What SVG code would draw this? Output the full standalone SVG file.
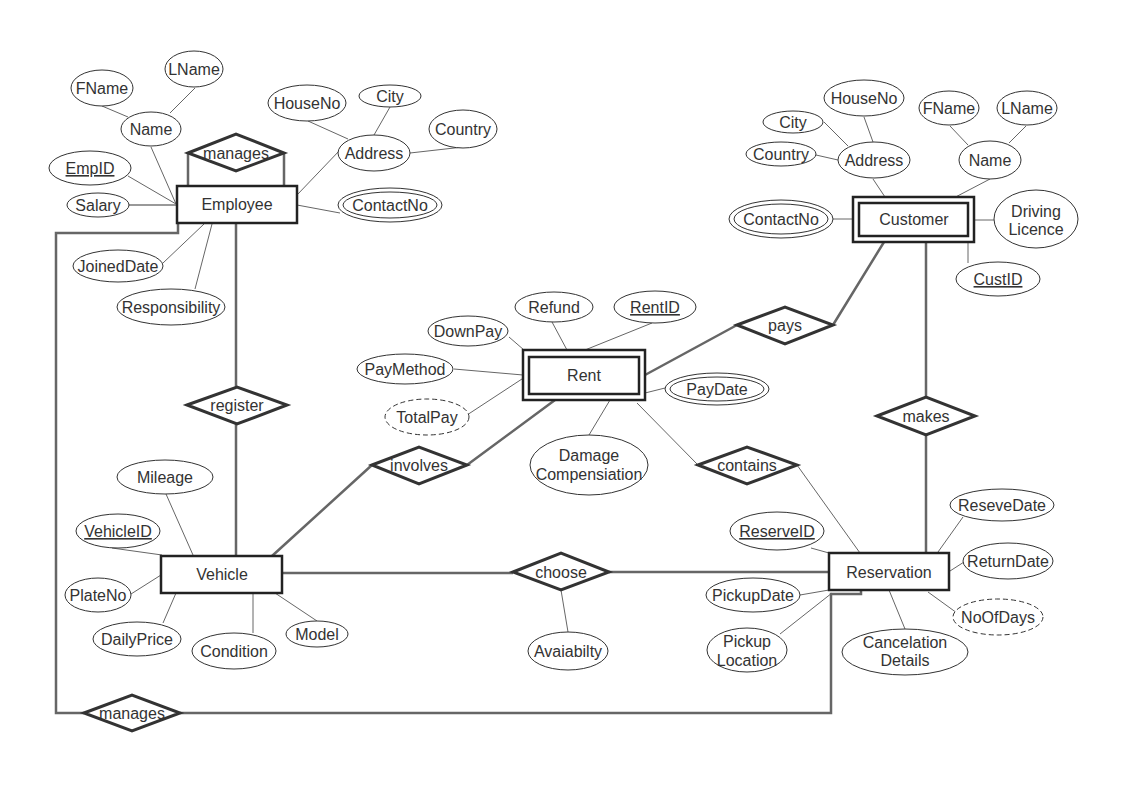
<svg xmlns="http://www.w3.org/2000/svg" width="1122" height="794" viewBox="0 0 1122 794">
<style>
.ent{fill:#fff;stroke:#222;stroke-width:2.5}
.rel{fill:#fff;stroke:#333;stroke-width:3}
.att{fill:#fff;stroke:#333;stroke-width:1}
.dash{stroke-dasharray:5 3}
.t{font-family:"Liberation Sans",Arial,sans-serif;font-size:16px;fill:#333;text-anchor:middle}
.u{text-decoration:underline}
.conn{fill:none;stroke:#666;stroke-width:2.5}
.al{fill:none;stroke:#666;stroke-width:1}
</style>
<rect width="1122" height="794" fill="#fff"/>
<g id="connectors">
  <path class="conn" d="M188,153 V186 M284,153 V186"/>
  <path class="conn" d="M236,223 V387 M236,424 V556"/>
  <path class="conn" d="M178,223 V233 H56 V713 H84 M180,713 H831 V594 H861 V590"/>
  <path class="conn" d="M272,556 L372,465 M467,465 L555,400"/>
  <path class="conn" d="M645,375 L737,325 M833,325 L884,242"/>
  <path class="conn" d="M926,242 V397 M926,435 V553"/>
  <path class="conn" d="M282,573 H513 M609,572 H829"/>
  <path class="al" d="M637,403 L698,465 M797,465 L860,553"/>
  <path class="al" d="M102,106 L128,117 M170,113 L195,88 M151,147 L176,204 M128,176 L176,204 M163,263 L204,224 M195,289 L212,224 M297,195 L340,150 M308,121 L348,139 M390,107 L374,135 M410,153 L463,147 M297,205 L340,213"/>
  <path d="M129,205 H176" fill="none" stroke="#999" stroke-width="2"/>
  <path class="al" d="M873,179 L885,197 M864,117 L873,142 M824,122 L848,146 M816,155 L838,160 M990,179 L946,202 M950,126 L968,145 M1026,126 L1009,143 M833,219 H853 M974,220 H994 M968,242 V263"/>
  <path class="al" d="M509,337 L524,350 M552,322 L567,350 M652,323 L585,350 M454,369 L523,375 M467,415 L525,377 M645,393 L665,388 M589,435 L610,400"/>
  <path class="al" d="M166,494 L193,555 M112,548 L162,555 M131,594 L161,575 M163,623 L176,593 M253,633 V593 M275,593 L317,621"/>
  <path class="al" d="M811,548 L829,553 M963,517 L938,552 M964,562 L950,571 M928,592 L957,613 M889,590 L905,629 M800,595 L829,590 M780,634 L832,593 M561,590 L568,632"/>
</g>
<g id="employee"><rect class="ent" x="177" y="186" width="120" height="37"/><text class="t" x="237" y="210">Employee</text></g>
<g id="vehicle"><rect class="ent" x="161" y="556" width="121" height="37"/><text class="t" x="222" y="580">Vehicle</text></g>
<g id="rent"><rect class="ent" x="523" y="350" width="122" height="50"/><rect class="ent" x="529" y="357" width="110" height="37"/><text class="t" x="584" y="381">Rent</text></g>
<g id="customer"><rect class="ent" x="853" y="197" width="121" height="45"/><rect class="ent" x="859" y="203" width="109" height="33"/><text class="t" x="914" y="225">Customer</text></g>
<g id="reservation"><rect class="ent" x="829" y="553" width="120" height="37"/><text class="t" x="889" y="578">Reservation</text></g>
<g id="rel-manages-self"><polygon class="rel" points="188,153 236,134 284,153 236,171"/><text class="t" x="236" y="159">manages</text></g>
<g id="rel-register"><polygon class="rel" points="187,405 237,387 287,405 237,424"/><text class="t" x="237" y="411">register</text></g>
<g id="rel-involves"><polygon class="rel" points="372,465 419,447 467,465 419,484"/><text class="t" x="419" y="471">involves</text></g>
<g id="rel-contains"><polygon class="rel" points="698,465 747,447 797,465 747,484"/><text class="t" x="747" y="471">contains</text></g>
<g id="rel-pays"><polygon class="rel" points="737,325 785,307 833,325 785,344"/><text class="t" x="785" y="331">pays</text></g>
<g id="rel-makes"><polygon class="rel" points="877,416 926,397 975,416 926,435"/><text class="t" x="926" y="422">makes</text></g>
<g id="rel-choose"><polygon class="rel" points="513,572 561,553 609,572 561,590"/><text class="t" x="561" y="578">choose</text></g>
<g id="rel-manages"><polygon class="rel" points="84,713 132,695 180,713 132,731"/><text class="t" x="132" y="719">manages</text></g>
<g id="emp-name"><ellipse class="att" cx="151" cy="129" rx="30" ry="17"/><text class="t" x="151" y="135">Name</text></g>
<g id="emp-fname"><ellipse class="att" cx="102" cy="88" rx="31" ry="18"/><text class="t" x="102" y="94">FName</text></g>
<g id="emp-lname"><ellipse class="att" cx="194" cy="69" rx="29" ry="18"/><text class="t" x="194" y="75">LName</text></g>
<g id="emp-empid"><ellipse class="att" cx="90" cy="168" rx="41" ry="17"/><text class="t u" x="90" y="174">EmpID</text></g>
<g id="emp-salary"><ellipse class="att" cx="98" cy="205" rx="31" ry="12"/><text class="t" x="98" y="211">Salary</text></g>
<g id="emp-joined"><ellipse class="att" cx="118" cy="266" rx="45" ry="16"/><text class="t" x="118" y="272">JoinedDate</text></g>
<g id="emp-resp"><ellipse class="att" cx="171" cy="307" rx="54" ry="18"/><text class="t" x="171" y="313">Responsibility</text></g>
<g id="emp-address"><ellipse class="att" cx="374" cy="153" rx="36" ry="18"/><text class="t" x="374" y="159">Address</text></g>
<g id="emp-houseno"><ellipse class="att" cx="307" cy="103" rx="39" ry="18"/><text class="t" x="307" y="109">HouseNo</text></g>
<g id="emp-city"><ellipse class="att" cx="390" cy="96" rx="31" ry="11"/><text class="t" x="390" y="102">City</text></g>
<g id="emp-country"><ellipse class="att" cx="463" cy="129" rx="34" ry="19"/><text class="t" x="463" y="135">Country</text></g>
<g id="emp-contact"><ellipse class="att" cx="390" cy="205" rx="52" ry="17"/><ellipse class="att" cx="390" cy="205" rx="47" ry="13"/><text class="t" x="390" y="211">ContactNo</text></g>
<g id="cust-address"><ellipse class="att" cx="874" cy="160" rx="36" ry="18"/><text class="t" x="874" y="166">Address</text></g>
<g id="cust-houseno"><ellipse class="att" cx="864" cy="98" rx="40" ry="18"/><text class="t" x="864" y="104">HouseNo</text></g>
<g id="cust-city"><ellipse class="att" cx="793" cy="122" rx="30" ry="11"/><text class="t" x="793" y="128">City</text></g>
<g id="cust-country"><ellipse class="att" cx="781" cy="154" rx="35" ry="12"/><text class="t" x="781" y="160">Country</text></g>
<g id="cust-name"><ellipse class="att" cx="990" cy="160" rx="31" ry="19"/><text class="t" x="990" y="166">Name</text></g>
<g id="cust-fname"><ellipse class="att" cx="949" cy="108" rx="30" ry="17"/><text class="t" x="949" y="114">FName</text></g>
<g id="cust-lname"><ellipse class="att" cx="1027" cy="108" rx="30" ry="17"/><text class="t" x="1027" y="114">LName</text></g>
<g id="cust-contact"><ellipse class="att" cx="781" cy="219" rx="52" ry="19"/><ellipse class="att" cx="781" cy="219" rx="47" ry="15"/><text class="t" x="781" y="225">ContactNo</text></g>
<g id="cust-licence"><ellipse class="att" cx="1036" cy="219" rx="42" ry="29"/><text class="t" x="1036" y="217">Driving</text><text class="t" x="1036" y="235">Licence</text></g>
<g id="cust-custid"><ellipse class="att" cx="998" cy="279" rx="42" ry="17"/><text class="t u" x="998" y="285">CustID</text></g>
<g id="rent-downpay"><ellipse class="att" cx="468" cy="331" rx="40" ry="15"/><text class="t" x="468" y="337">DownPay</text></g>
<g id="rent-refund"><ellipse class="att" cx="554" cy="307" rx="39" ry="15"/><text class="t" x="554" y="313">Refund</text></g>
<g id="rent-rentid"><ellipse class="att" cx="655" cy="307" rx="41" ry="16"/><text class="t u" x="655" y="313">RentID</text></g>
<g id="rent-paymethod"><ellipse class="att" cx="405" cy="369" rx="48" ry="15"/><text class="t" x="405" y="375">PayMethod</text></g>
<g id="rent-totalpay"><ellipse class="att dash" cx="427" cy="417" rx="42" ry="18"/><text class="t" x="427" y="423">TotalPay</text></g>
<g id="rent-paydate"><ellipse class="att" cx="717" cy="389" rx="52" ry="16"/><ellipse class="att" cx="717" cy="389" rx="47" ry="12"/><text class="t" x="717" y="395">PayDate</text></g>
<g id="rent-damage"><ellipse class="att" cx="589" cy="465" rx="59" ry="30"/><text class="t" x="589" y="461">Damage</text><text class="t" x="589" y="480">Compensiation</text></g>
<g id="veh-mileage"><ellipse class="att" cx="165" cy="477" rx="48" ry="17"/><text class="t" x="165" y="483">Mileage</text></g>
<g id="veh-id"><ellipse class="att" cx="118" cy="531" rx="42" ry="17"/><text class="t u" x="118" y="537">VehicleID</text></g>
<g id="veh-plate"><ellipse class="att" cx="98" cy="595" rx="33" ry="17"/><text class="t" x="98" y="601">PlateNo</text></g>
<g id="veh-daily"><ellipse class="att" cx="137" cy="639" rx="44" ry="17"/><text class="t" x="137" y="645">DailyPrice</text></g>
<g id="veh-condition"><ellipse class="att" cx="234" cy="651" rx="42" ry="18"/><text class="t" x="234" y="657">Condition</text></g>
<g id="veh-model"><ellipse class="att" cx="317" cy="634" rx="31" ry="13"/><text class="t" x="317" y="640">Model</text></g>
<g id="res-id"><ellipse class="att" cx="777" cy="531" rx="47" ry="19"/><text class="t u" x="777" y="537">ReserveID</text></g>
<g id="res-resevedate"><ellipse class="att" cx="1002" cy="505" rx="52" ry="16"/><text class="t" x="1002" y="511">ReseveDate</text></g>
<g id="res-returndate"><ellipse class="att" cx="1008" cy="561" rx="45" ry="18"/><text class="t" x="1008" y="567">ReturnDate</text></g>
<g id="res-noofdays"><ellipse class="att dash" cx="998" cy="617" rx="45" ry="18"/><text class="t" x="998" y="623">NoOfDays</text></g>
<g id="res-cancel"><ellipse class="att" cx="905" cy="652" rx="63" ry="23"/><text class="t" x="905" y="648">Cancelation</text><text class="t" x="905" y="666">Details</text></g>
<g id="res-pickupdate"><ellipse class="att" cx="753" cy="595" rx="47" ry="17"/><text class="t" x="753" y="601">PickupDate</text></g>
<g id="res-pickuploc"><ellipse class="att" cx="747" cy="650" rx="40" ry="22"/><text class="t" x="747" y="647">Pickup</text><text class="t" x="747" y="666">Location</text></g>
<g id="choose-avail"><ellipse class="att" cx="568" cy="651" rx="40" ry="19"/><text class="t" x="568" y="657">Avaiabilty</text></g>
</svg>
